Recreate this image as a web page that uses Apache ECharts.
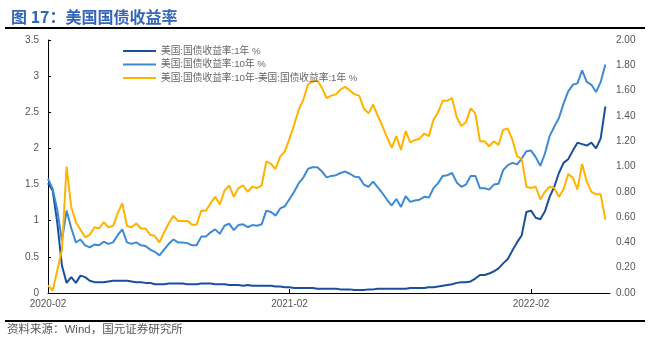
<!DOCTYPE html>
<html>
<head>
<meta charset="utf-8">
<script src="https://cdn.jsdelivr.net/npm/echarts@6/dist/echarts.min.js"></script>
<style>html,body{margin:0;padding:0;background:#fff;}#c{width:650px;height:342px;}</style>
</head>
<body>
<div id="c"></div>
<script>
// Weekly observation dates (start + 7-day steps), one extra empty slot at the end of the axis
const startDate = '2020-02-07';
const weekCount = 122;
const xTickLabels = ['2020-02', '2021-02', '2022-02'];
const rightTickLabels = ['0.00','0.20','0.40','0.60','0.80','1.00','1.20','1.40','1.60','1.80','2.00'];

const seriesNames = ['美国:国债收益率:1年 %', '美国:国债收益率:10年 %', '美国:国债收益率:10年-美国:国债收益率:1年 %'];

const y1 = [1.52,1.42,0.97,0.38,0.14,0.22,0.14,0.24,0.22,0.17,
0.15,0.15,0.15,0.16,0.17,0.17,0.17,0.17,0.16,0.15,
0.15,0.14,0.14,0.12,0.12,0.12,0.13,0.13,0.13,0.13,
0.12,0.12,0.12,0.13,0.13,0.13,0.12,0.12,0.12,0.11,
0.11,0.11,0.10,0.11,0.10,0.10,0.10,0.10,0.10,0.09,
0.09,0.08,0.08,0.07,0.07,0.07,0.07,0.07,0.06,0.06,
0.06,0.06,0.06,0.05,0.05,0.05,0.04,0.04,0.04,0.05,
0.05,0.06,0.06,0.06,0.06,0.06,0.06,0.06,0.07,0.07,
0.07,0.07,0.08,0.08,0.09,0.10,0.11,0.12,0.14,0.15,
0.15,0.16,0.20,0.25,0.25,0.27,0.30,0.34,0.41,0.47,
0.59,0.70,0.80,1.12,1.14,1.04,1.02,1.13,1.33,1.47,
1.66,1.80,1.85,1.97,2.08,2.06,2.04,2.08,2.00,2.14,
2.58];

const y10 = [1.58,1.44,1.15,0.72,1.14,0.90,0.70,0.74,0.66,0.63,
0.67,0.66,0.71,0.68,0.70,0.80,0.88,0.70,0.68,0.70,
0.66,0.65,0.60,0.57,0.52,0.60,0.68,0.74,0.70,0.70,
0.69,0.66,0.66,0.78,0.78,0.84,0.88,0.82,0.93,0.96,
0.87,0.94,0.95,0.91,0.94,0.93,0.95,1.14,1.12,1.07,
1.17,1.20,1.30,1.40,1.52,1.60,1.72,1.74,1.74,1.68,
1.60,1.62,1.63,1.66,1.68,1.65,1.61,1.60,1.50,1.47,
1.54,1.46,1.38,1.29,1.21,1.30,1.19,1.34,1.26,1.28,
1.29,1.33,1.32,1.45,1.52,1.62,1.63,1.66,1.53,1.47,
1.50,1.62,1.62,1.45,1.45,1.43,1.50,1.51,1.70,1.77,
1.80,1.78,1.86,1.96,1.97,1.88,1.76,1.93,2.17,2.30,
2.42,2.62,2.79,2.88,2.90,3.08,2.92,2.88,2.78,2.92,
3.16];

const spread = [0.06,0.02,0.18,0.34,1.00,0.68,0.56,0.50,0.44,0.46,
0.52,0.51,0.56,0.52,0.53,0.63,0.71,0.53,0.52,0.55,
0.51,0.51,0.46,0.45,0.40,0.48,0.55,0.61,0.57,0.57,
0.57,0.54,0.54,0.65,0.65,0.71,0.76,0.70,0.81,0.85,
0.76,0.83,0.85,0.80,0.84,0.83,0.85,1.04,1.02,0.98,
1.08,1.12,1.22,1.33,1.45,1.53,1.65,1.67,1.68,1.62,
1.54,1.56,1.57,1.61,1.63,1.60,1.57,1.56,1.46,1.42,
1.49,1.40,1.32,1.23,1.15,1.24,1.13,1.28,1.19,1.21,
1.22,1.26,1.24,1.37,1.43,1.52,1.52,1.54,1.39,1.32,
1.35,1.46,1.42,1.20,1.20,1.16,1.20,1.17,1.29,1.30,
1.21,1.08,1.06,0.84,0.83,0.84,0.74,0.80,0.84,0.83,
0.76,0.82,0.94,0.91,0.82,1.02,0.88,0.80,0.78,0.78,
0.58];

const colors = ['#1B4F9E', '#3D8BD4', '#FFB300'];

// build category dates
const dates = [];
const t0 = Date.parse(startDate + 'T00:00:00Z');
for (let k = 0; k < weekCount; k++) {
  const d = new Date(t0 + k * 7 * 86400000);
  dates.push(d.toISOString().slice(0, 10));
}
const labelIdx = xTickLabels.map(l => dates.findIndex(d => d.startsWith(l)));
const showIdx = (i) => labelIdx.indexOf(i) >= 0;

const FONT = "'Liberation Sans', 'Noto Sans CJK SC', sans-serif";
const chart = echarts.init(document.getElementById('c'), null, {renderer: 'canvas'});
chart.setOption({
  animation: false,
  backgroundColor: '#fff',
  textStyle: {fontFamily: FONT},
  title: {
    text: '图 17：美国国债收益率',
    left: 6, top: 4,
    textStyle: {fontSize: 16, fontWeight: 'bold', color: '#3366B8', fontFamily: "'Noto Sans CJK SC', sans-serif"}
  },
  graphic: [
    {type: 'line', shape: {x1: 5, y1: 28, x2: 645, y2: 28}, style: {stroke: '#000', lineWidth: 2}},
    {type: 'line', shape: {x1: 5, y1: 321, x2: 645, y2: 321}, style: {stroke: '#000', lineWidth: 2}},
    {type: 'text', left: 7, top: 324, style: {text: '资料来源：Wind，国元证券研究所', font: "11.5px 'Liberation Sans','Noto Sans CJK SC'", fill: '#555'}}
  ],
  legend: {
    orient: 'vertical',
    left: 118, top: 40,
    icon: 'rect',
    itemWidth: 33, itemHeight: 2,
    itemGap: 1.5,
    data: seriesNames,
    textStyle: {fontSize: 9.7, lineHeight: 12, color: '#666', fontFamily: FONT}
  },
  grid: {left: 48, right: 40, top: 40, bottom: 49, containLabel: false},
  xAxis: {
    type: 'category',
    data: dates,
    boundaryGap: false,
    axisLine: {lineStyle: {color: '#000', width: 1}},
    axisTick: {inside: true, length: 4, interval: (i) => showIdx(i), lineStyle: {color: '#000'}},
    axisLabel: {interval: (i) => showIdx(i), formatter: (v) => v.slice(0, 7), color: '#555', fontSize: 10, margin: 6, fontFamily: FONT},
    splitLine: {show: false}
  },
  yAxis: [
    {
      type: 'value', min: 0, max: 3.5, interval: 0.5, position: 'left',
      axisLine: {show: true, lineStyle: {color: '#000'}},
      axisTick: {show: true, inside: true, length: 3, lineStyle: {color: '#000'}},
      splitLine: {show: false},
      axisLabel: {color: '#555', fontSize: 10, margin: 9, fontFamily: FONT}
    },
    {
      type: 'value', min: 0, max: 2, interval: 0.2, position: 'right',
      axisLine: {show: false}, axisTick: {show: false}, splitLine: {show: false},
      axisLabel: {color: '#555', fontSize: 10, margin: 6, fontFamily: FONT,
        formatter: (v) => rightTickLabels[Math.round(v / 0.2)]}
    }
  ],
  series: [
    {name: seriesNames[0], type: 'line', data: y1, yAxisIndex: 0, showSymbol: false, symbol: 'none', lineStyle: {width: 2, color: colors[0]}, itemStyle: {color: colors[0]}},
    {name: seriesNames[1], type: 'line', data: y10, yAxisIndex: 0, showSymbol: false, symbol: 'none', lineStyle: {width: 2, color: colors[1]}, itemStyle: {color: colors[1]}},
    {name: seriesNames[2], type: 'line', data: spread, yAxisIndex: 1, showSymbol: false, symbol: 'none', lineStyle: {width: 2, color: colors[2]}, itemStyle: {color: colors[2]}}
  ]
});
</script>
</body>
</html>
